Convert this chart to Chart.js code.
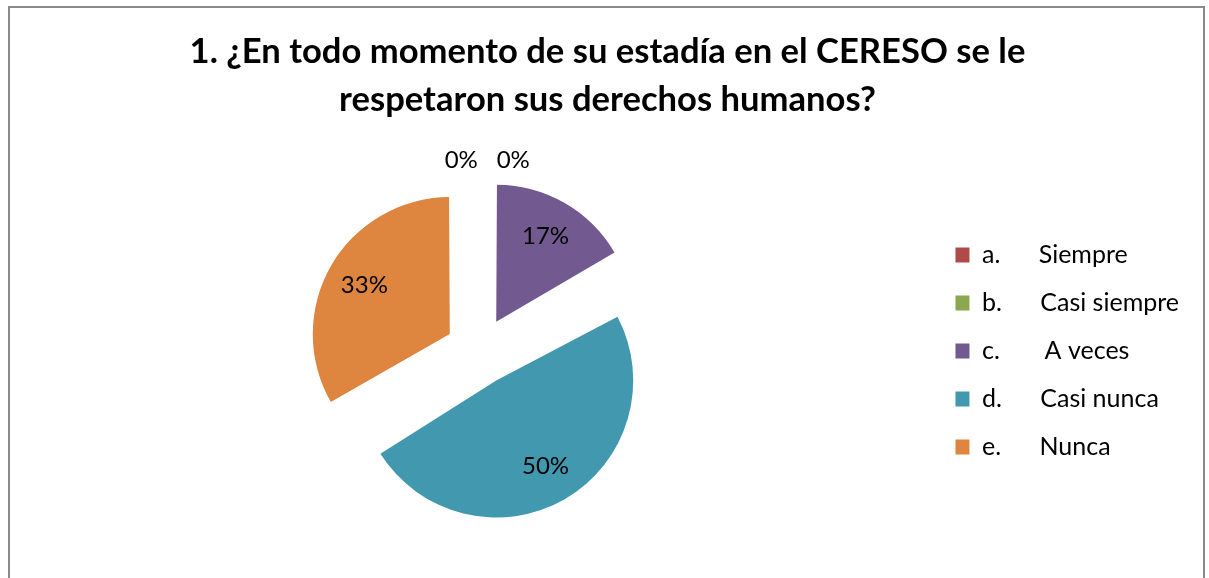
<!DOCTYPE html>
<html>
<head>
<meta charset="utf-8">
<script src="https://cdn.jsdelivr.net/npm/chart.js@4"></script>
<style>
  body { margin: 0; background: #fff; }
  #frame {
    position: absolute; left: 8px; top: 6px; width: 1193px; height: 600px;
    border: 2px solid #8a8a8a; border-bottom: none;
  }
  #pieChart { position: absolute; left: 0; top: 0; }
</style>
</head>
<body>
<div id="frame"></div>
<canvas id="pieChart" width="1209" height="578"></canvas>
<script>
const titleLines = [
  "1. ¿En todo momento de su estadía en el CERESO se le",
  "respetaron sus derechos humanos?"
];
const categories = [
  "a.      Siempre",
  "b.      Casi siempre",
  "c.       A veces",
  "d.      Casi nunca",
  "e.      Nunca"
];
// respuestas (proporciones: 0, 0, 1/6, 3/6, 2/6)
const answers = [0, 0, 1, 3, 2];
const sliceColors = ["#ae4a47", "#8ba84e", "#725a90", "#4299af", "#de853f"];

const FONT = "Lato";
const PIE_R = 137;
const EXPLODE = 136; // chart.js moves the slice by offset/4

// keep every slice the same size after chart.js adds offset to the radius
const keepRadius = {
  id: "keepRadius",
  beforeDatasetsDraw(chart) {
    const meta = chart.getDatasetMeta(0);
    meta.data.forEach(function (arc) {
      const circ = arc.endAngle - arc.startAngle;
      const o = (arc.options.offset || 0) / 4;
      const fix = 1 - Math.sin(Math.min(Math.PI, circ));
      arc.outerRadius = PIE_R - o * fix;
    });
  }
};

// percentage labels
const pctLabels = {
  id: "pctLabels",
  afterDatasetsDraw(chart) {
    const ctx = chart.ctx;
    const meta = chart.getDatasetMeta(0);
    const total = answers.reduce((a, b) => a + b, 0);
    let zeroCount = 0;
    ctx.save();
    ctx.font = "24px " + FONT;
    ctx.fillStyle = "#000";
    ctx.textAlign = "center";
    ctx.textBaseline = "middle";
    meta.data.forEach(function (arc, i) {
      const pct = Math.round(answers[i] / total * 100) + "%";
      const mid = (arc.startAngle + arc.endAngle) / 2;
      const o = (arc.options.offset || 0) / 4;
      let x, y;
      if (answers[i] === 0) {
        x = arc.x + (zeroCount === 0 ? -18 : 34);
        y = arc.y - PIE_R - o - 20;
        zeroCount++;
      } else {
        const d = o + PIE_R * 0.72;
        x = arc.x + Math.cos(mid) * d;
        y = arc.y + Math.sin(mid) * d;
      }
      ctx.fillText(pct, x, y);
    });
    ctx.restore();
  }
};

const ctx = document.getElementById("pieChart").getContext("2d");

new Chart(ctx, {
  type: "pie",
  data: {
    labels: categories,
    datasets: [
      {
        data: answers,
        backgroundColor: sliceColors,
        borderWidth: 0,
        offset: EXPLODE,
        hoverOffset: EXPLODE,
      },
    ],
  },
  options: {
    responsive: false,
    animation: false,
    devicePixelRatio: 1,
    radius: PIE_R,
    layout: {
      padding: { left: 26, right: 20, top: 0, bottom: 0 },
    },
    plugins: {
      tooltip: { enabled: false },
      title: {
        display: true,
        text: titleLines,
        color: "#000",
        font: { family: FONT, size: 34.6, weight: "bold", lineHeight: 1.39 },
        padding: { top: 28, bottom: 0 },
      },
      legend: {
        position: "right",
        fullSize: false,
        labels: {
          color: "#000",
          boxWidth: 14,
          boxHeight: 15,
          padding: 23,
          font: { family: FONT, size: 25 },
        },
      },
    },
  },
  plugins: [keepRadius, pctLabels],
});
</script>
</body>
</html>
